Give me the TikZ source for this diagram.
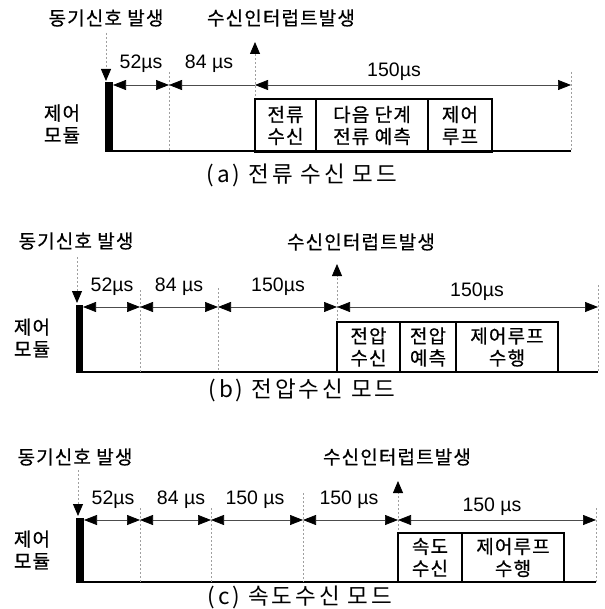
\documentclass[tikz,border=0pt]{standalone}
\usepackage{fontspec}
\setmainfont{Liberation Sans}
\newfontfamily\kr[LetterSpace=6,FakeBold=0.6]{Noto Sans CJK KR}
\newfontfamily\krcap[LetterSpace=13]{Noto Sans CJK KR}
\usetikzlibrary{arrows.meta}
\begin{document}
\begin{tikzpicture}[x=1pt,y=-1pt,
  lbl/.style={font=\kr\fontsize{19}{22}\selectfont, inner sep=0pt, align=center},
  captxt/.style={font=\krcap\fontsize{22.5}{25}\selectfont, inner sep=0pt},
  us/.style={font=\fontsize{19.5}{21}\selectfont, inner sep=0pt},
  guide/.style={draw=gray!75, dash pattern=on 2pt off 2pt, line width=0.8pt},
  tri/.tip={Triangle[length=13pt,width=10pt,color=black]},
  tline/.style={draw=gray!60!black, line width=0.7pt},
  seg/.style={tline, tri-tri},
  segl/.style={tline, tri-},
  upar/.style={guide, -{Triangle[length=12pt,width=10pt,color=black]}},
  base/.style={draw=black, line width=2.2pt},
  bar/.style={fill=black},
  box/.style={draw=black, line width=1.8pt, inner sep=0pt, align=center,
    font=\kr\fontsize{19}{22}\selectfont}]
\useasboundingbox (0,0) rectangle (604,609);

% ================= (a) =================
\node[lbl] (syncA) at (106,18) {동기신호 발생};
\node[lbl] (intA) at (281,18) {수신인터럽트발생};
\node[lbl] (modA) at (62,124) {제어\\모듈};
\coordinate (sA0) at (106,33);
\coordinate (sA1) at (106,81);
\draw[upar] (sA0) -- (sA1);
\fill[bar] (105,82) rectangle (113,152);
\coordinate (bA0) at (105,151);
\coordinate (bA1) at (571,151);
\draw[base] (bA0) -- (bA1);
\coordinate (tA0) at (113,85);
\coordinate (tA1) at (169,85);
\coordinate (tA2) at (255,85);
\coordinate (tA3) at (571,85);
\coordinate (gA1) at (169,72);  \coordinate (gA1b) at (169,152);
\coordinate (gA3) at (571,72);  \coordinate (gA3b) at (571,152);
\coordinate (iA0) at (255,152); \coordinate (iA1) at (255,42);
\draw[guide] (gA1) -- (gA1b);
\draw[guide] (gA3) -- (gA3b);
\draw[upar] (iA0) -- (iA1);
\draw[seg] (tA0) -- (tA1);
\draw[segl] (tA1) -- (tA2);
\draw[seg] (tA2) -- (tA3);
\node[us] (uA1) at (141,64) {52µs};
\node[us] (uA2) at (209,64) {84 µs};
\node[us] (uA3) at (394,72) {150µs};
\node[box, minimum width=61pt, minimum height=53pt] (boxA1) at (285.5,125.5) {전류\\수신};
\node[box, minimum width=112pt, minimum height=53pt] (boxA2) at (372,125.5) {다음 단계\\전류 예측};
\node[box, minimum width=64pt, minimum height=53pt] (boxA3) at (460,125.5) {제어\\루프};
\node[captxt] (capA) at (302,175) {(a) 전류 수신 모드};

% ================= (b) =================
\node[lbl] (syncB) at (76,241) {동기신호 발생};
\node[lbl] (intB) at (361,242) {수신인터럽트발생};
\node[lbl] (modB) at (32,338) {제어\\모듈};
\coordinate (sB0) at (77,257);
\coordinate (sB1) at (77,303);
\draw[upar] (sB0) -- (sB1);
\fill[bar] (76,305) rectangle (83,373);
\coordinate (bB0) at (76,372);
\coordinate (bB1) at (598,372);
\draw[base] (bB0) -- (bB1);
\coordinate (tB0) at (83,307);
\coordinate (tB1) at (140,307);
\coordinate (tB2) at (218,307);
\coordinate (tB3) at (337,307);
\coordinate (tB4) at (598,307);
\coordinate (gB1) at (140,290); \coordinate (gB1b) at (140,372);
\coordinate (gB2) at (218,288); \coordinate (gB2b) at (218,372);
\coordinate (gB4) at (598,285); \coordinate (gB4b) at (598,372);
\coordinate (iB0) at (337,372); \coordinate (iB1) at (337,264);
\draw[guide] (gB1) -- (gB1b);
\draw[guide] (gB2) -- (gB2b);
\draw[guide] (gB4) -- (gB4b);
\draw[upar] (iB0) -- (iB1);
\draw[seg] (tB0) -- (tB1);
\draw[seg] (tB1) -- (tB2);
\draw[seg] (tB2) -- (tB3);
\draw[seg] (tB3) -- (tB4);
\node[us] (uB1) at (112,287) {52µs};
\node[us] (uB2) at (179,287) {84 µs};
\node[us] (uB3) at (278,287) {150µs};
\node[us] (uB4) at (477,292) {150µs};
\node[box, minimum width=63pt, minimum height=50pt] (boxB1) at (368.5,347) {전압\\수신};
\node[box, minimum width=56pt, minimum height=50pt] (boxB2) at (428,347) {전압\\예측};
\node[box, minimum width=102pt, minimum height=50pt] (boxB3) at (507,347) {제어루프\\수행};
\node[captxt] (capB) at (302,390) {(b) 전압수신 모드};

% ================= (c) =================
\node[lbl] (syncC) at (75,457) {동기신호 발생};
\node[lbl] (intC) at (397,457) {수신인터럽트발생};
\node[lbl] (modC) at (32,550) {제어\\모듈};
\coordinate (sC0) at (78,470);
\coordinate (sC1) at (78,516);
\draw[upar] (sC0) -- (sC1);
\fill[bar] (76,518) rectangle (84,583);
\coordinate (bC0) at (76,582);
\coordinate (bC1) at (596,582);
\draw[base] (bC0) -- (bC1);
\coordinate (tC0) at (84,520);
\coordinate (tC1) at (140,520);
\coordinate (tC2) at (211,520);
\coordinate (tC3) at (303,520);
\coordinate (tC4) at (398,520);
\coordinate (tC5) at (596,520);
\coordinate (gC1) at (140,508); \coordinate (gC1b) at (140,582);
\coordinate (gC2) at (211,508); \coordinate (gC2b) at (211,582);
\coordinate (gC3) at (303,493); \coordinate (gC3b) at (303,582);
\coordinate (gC5) at (596,508); \coordinate (gC5b) at (596,582);
\coordinate (iC0) at (398,582); \coordinate (iC1) at (398,481);
\draw[guide] (gC1) -- (gC1b);
\draw[guide] (gC2) -- (gC2b);
\draw[guide] (gC3) -- (gC3b);
\draw[guide] (gC5) -- (gC5b);
\draw[upar] (iC0) -- (iC1);
\draw[seg] (tC0) -- (tC1);
\draw[seg] (tC1) -- (tC2);
\draw[seg] (tC2) -- (tC3);
\draw[seg] (tC3) -- (tC4);
\draw[seg] (tC4) -- (tC5);
\node[us] (uC1) at (113,500) {52µs};
\node[us] (uC2) at (181,500) {84 µs};
\node[us] (uC3) at (255,500) {150 µs};
\node[us] (uC4) at (349,500) {150 µs};
\node[us] (uC5) at (492,507) {150 µs};
\node[box, minimum width=64pt, minimum height=49pt] (boxC1) at (430,557.5) {속도\\수신};
\node[box, minimum width=102pt, minimum height=49pt] (boxC2) at (513,557.5) {제어루프\\수행};
\node[captxt] (capC) at (300,597) {(c) 속도수신 모드};
\end{tikzpicture}
\end{document}
